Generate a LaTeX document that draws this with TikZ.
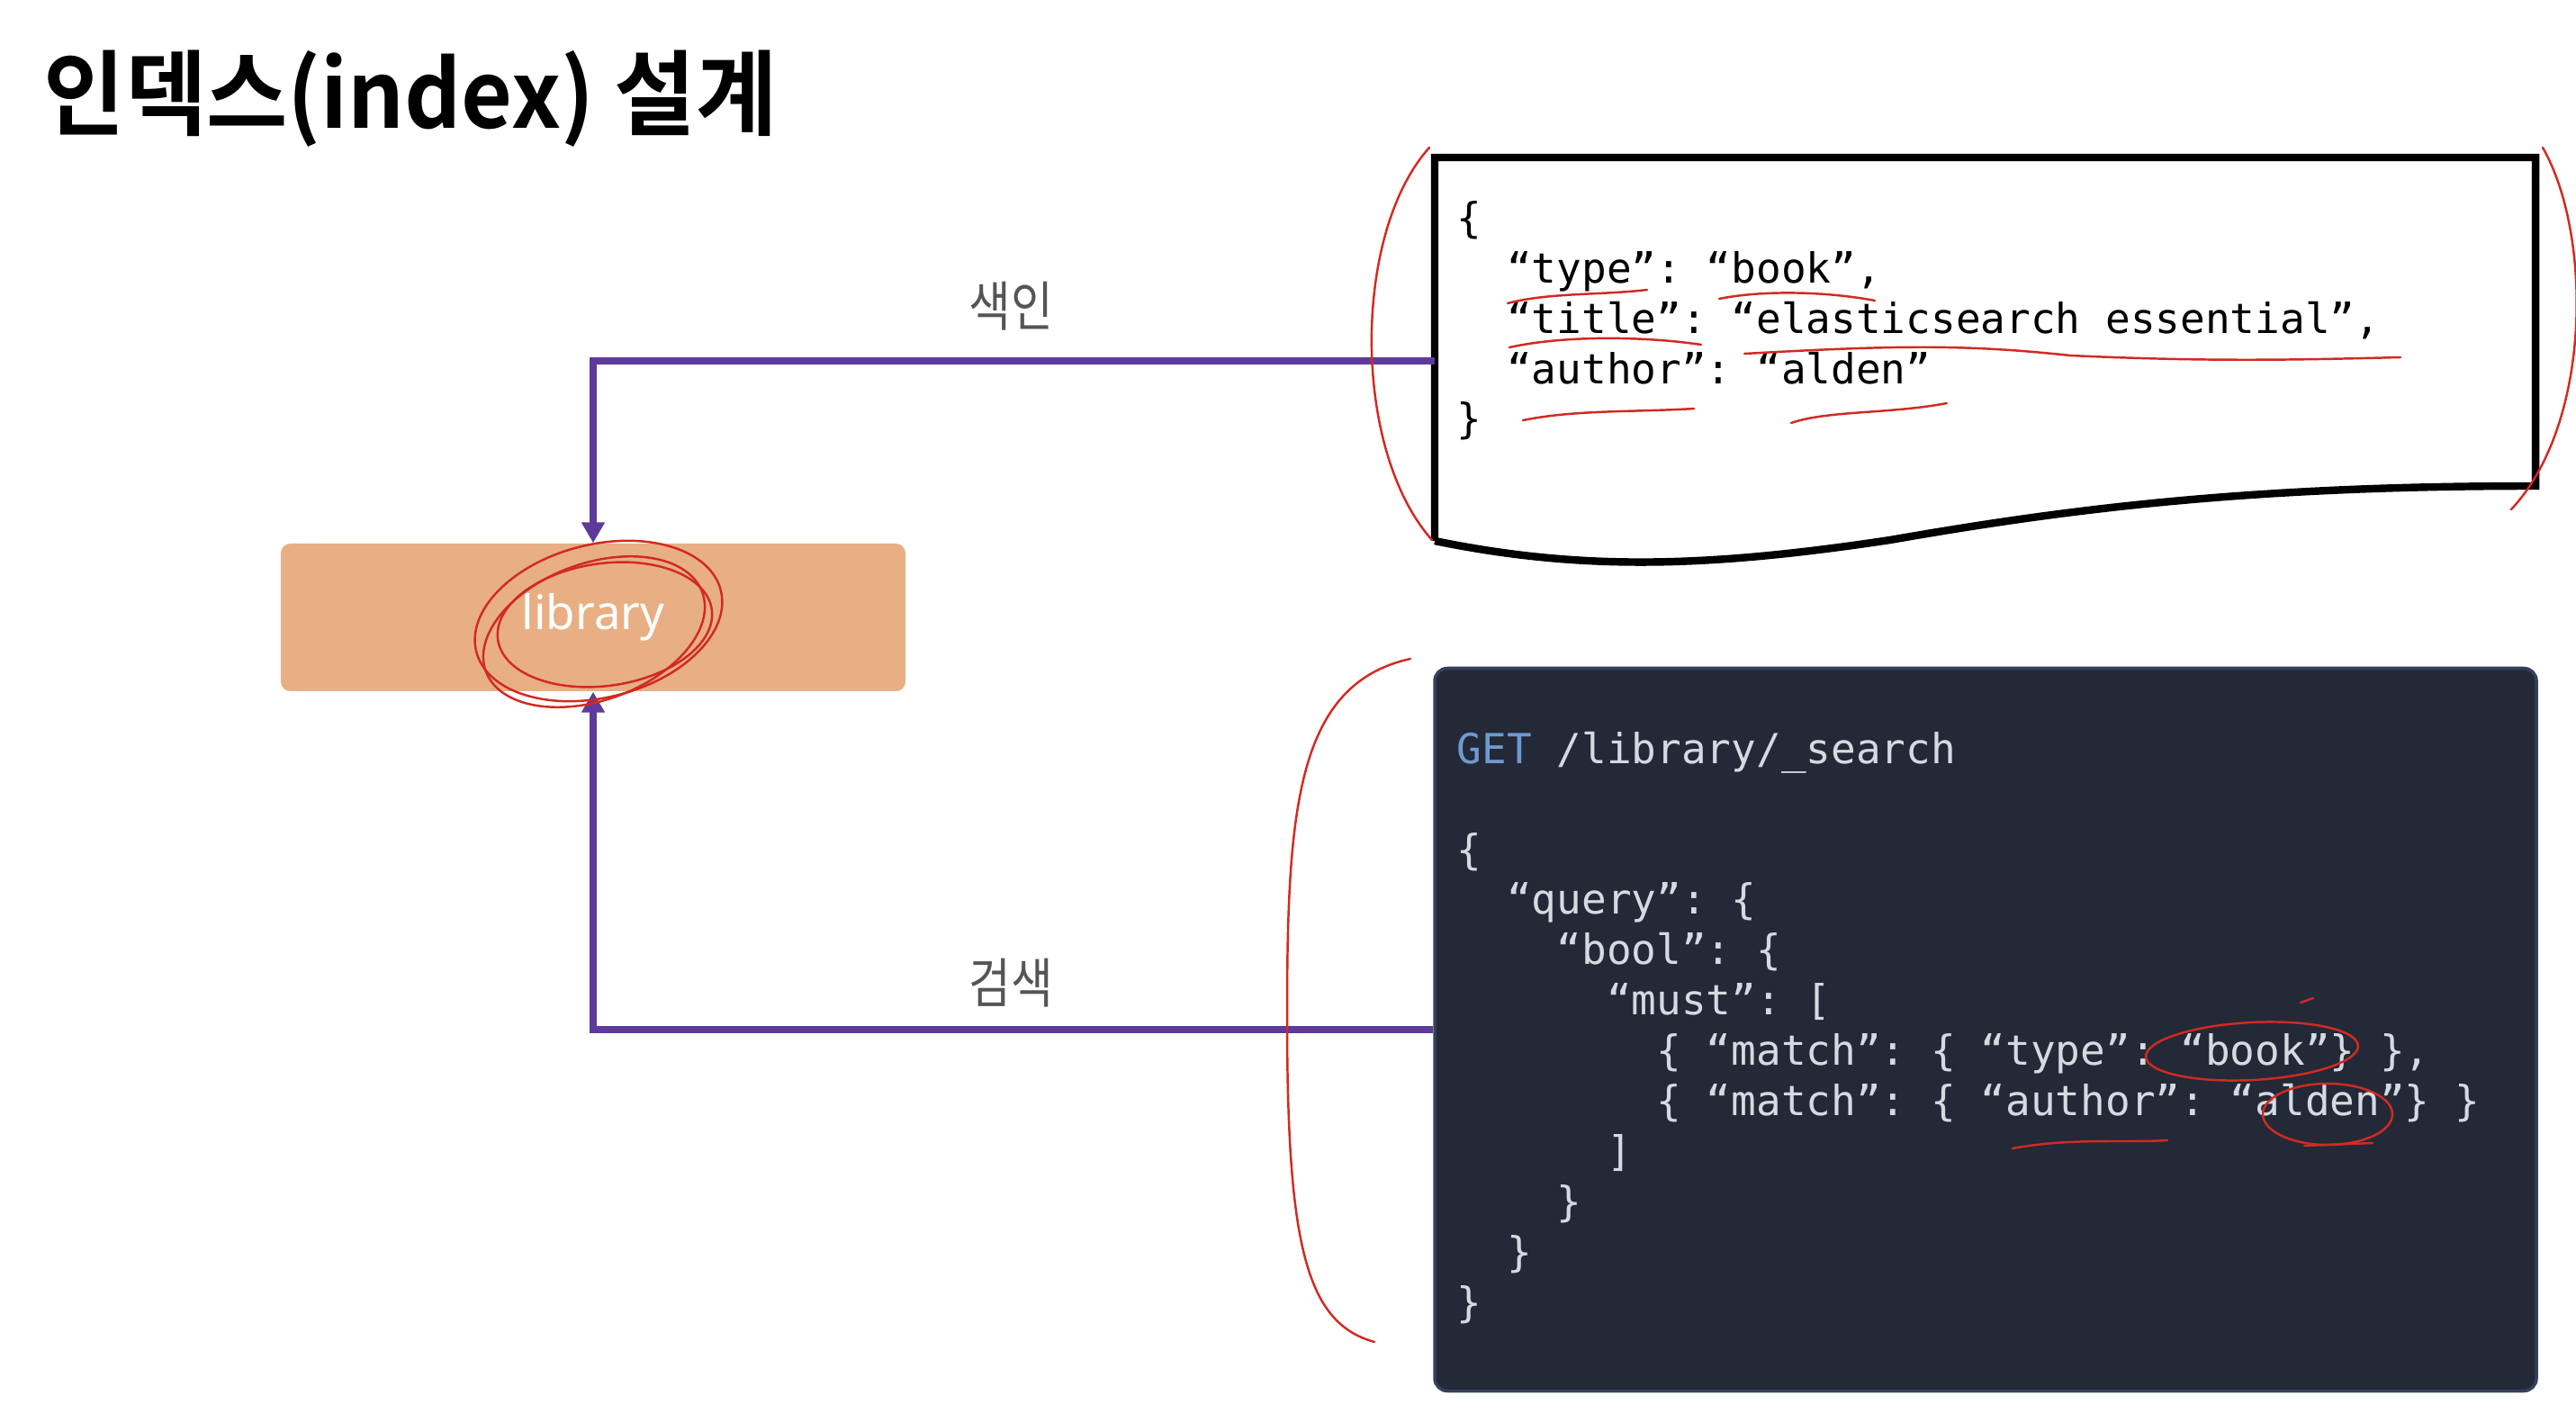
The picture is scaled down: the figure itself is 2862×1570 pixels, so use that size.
\documentclass[tikz,border=0pt]{standalone}
\usepackage{fontspec}
\setmainfont{Noto Sans}
\newfontfamily\hangul{Noto Sans CJK KR}
\newfontfamily\hangulbold{Noto Sans CJK KR Bold}
\newfontfamily\codefont{DejaVu Sans Mono}
\usepackage{tikz}
\usetikzlibrary{arrows.meta}
\usepackage{xcolor}

\definecolor{flowpurple}{HTML}{5E3B9A}
\definecolor{libfill}{HTML}{E8AF84}
\definecolor{labelgray}{HTML}{555555}
\definecolor{codebg}{HTML}{232936}
\definecolor{codeedge}{HTML}{34405C}
\definecolor{codetext}{HTML}{D5DAE2}
\definecolor{getblue}{HTML}{6E9AD0}
\definecolor{ink}{HTML}{D12A22}

% indent by n characters of the mono font
\newcommand\ind[1]{\hspace*{#1\fontdimen2\font}}

\begin{document}
\begin{tikzpicture}[x=0.1mm, y=-0.1mm,
	flow/.style={draw=flowpurple, line width=2pt, -{Triangle[length=6.5pt,width=7pt]}},
	tag/.style={font=\hangul\fontsize{17}{20}\selectfont, text=labelgray, inner sep=0pt},
	codeblock/.style={font=\codefont\fontsize{13.1}{15.9}\selectfont\frenchspacing, align=left, inner sep=0pt, anchor=base west},
	pen/.style={draw=ink, line width=0.7pt, line cap=round}]
	\fill[white] (0,0) rectangle (2862,1570);
	\useasboundingbox (0,0) rectangle (2862,1570);

	\node[anchor=west, inner sep=0pt, font=\hangulbold\fontsize{29.4}{34}\selectfont] (title) at (48,110) {\scalebox{0.95}[1]{인덱스(index) 설계}};

	% index
	\node[fill=libfill, rounded corners=3pt, minimum width=6.94cm, minimum height=1.64cm, text=white, font=\fontsize{15}{18}\selectfont] (lib) at (659,686) {library};

	% document (base = last line)
	\draw[line width=2.4pt] (1594,601) -- (1594,175) -- (2817,175) -- (2817,540)
		.. controls (2500,540) and (2300,565) .. (2100,600)
		.. controls (1900,630) and (1760,635) .. (1594,601);
	\coordinate (docin) at (1594,401);
	\node[codeblock] (doc) at (1618,482) {\{\\
		\ind2“type”: “book”,\\
		\ind2“title”: “elasticsearch essential”,\\
		\ind2“author”: “alden”\\
		\}};

	% query
	\node[fill=codebg, draw=codeedge, line width=1pt, rounded corners=4pt, minimum width=12.24cm, minimum height=8.03cm] (qry) at (2206,1144) {};
	\node[codeblock, text=codetext] (qrytext) at (1618,1463) {{\color{getblue}GET} /library/\_search\\
		\mbox{}\\
		\{\\
		\ind2“query”: \{\\
		\ind4“bool”: \{\\
		\ind6“must”: [\\
		\ind8\{ “match”: \{ “type”: “book”\} \},\\
		\ind8\{ “match”: \{ “author”: “alden”\} \}\\
		\ind6]\\
		\ind4\}\\
		\ind2\}\\
		\}};

	\draw[flow] (docin) -| (lib);
	\draw[flow] (qry.west) -| (lib);
	\node[tag] (idx) at (1123,340) {\scalebox{0.85}[1]{색인}};
	\node[tag] (srch) at (1123,1092) {\scalebox{0.85}[1]{검색}};

	% red pen marks
	\draw[pen, rotate around={14:(665,690)}] (665,690) ellipse [x radius=140, y radius=85];
	\draw[pen, rotate around={8:(672,694)}] (672,694) ellipse [x radius=120, y radius=68];
	\draw[pen, rotate around={20:(660,702)}] (660,702) ellipse [x radius=128, y radius=76];
	\draw[pen] (1588,164) .. controls (1502,260) and (1502,500) .. (1591,600);
	\draw[pen] (2825,164) .. controls (2880,260) and (2880,470) .. (2790,566);
	\draw[pen] (1567,732) .. controls (1440,760) and (1430,900) .. (1430,1130)
		.. controls (1430,1380) and (1450,1470) .. (1527,1491);
	\draw[pen] (1675,337) .. controls (1720,325) and (1780,328) .. (1830,322);
	\draw[pen] (1910,332) .. controls (1960,322) and (2030,324) .. (2083,334);
	\draw[pen] (1677,386) .. controls (1740,372) and (1830,374) .. (1890,383);
	\draw[pen] (1938,393) .. controls (2100,384) and (2180,382) .. (2300,395)
		.. controls (2450,402) and (2550,400) .. (2667,397);
	\draw[pen] (1692,467) .. controls (1750,455) and (1820,458) .. (1882,454);
	\draw[pen] (1990,470) .. controls (2030,456) and (2100,460) .. (2163,448);
	\draw[pen, rotate around={3:(2502,1168)}] (2502,1168) ellipse [x radius=118, y radius=32];
	\draw[pen] (2556,1114) -- (2570,1109);
	\draw[pen] (2586,1238) ellipse [x radius=72, y radius=34];
	\draw[pen] (2560,1273) -- (2636,1270);
	\draw[pen] (2236,1276) .. controls (2300,1264) and (2360,1270) .. (2408,1267);
\end{tikzpicture}
\end{document}
